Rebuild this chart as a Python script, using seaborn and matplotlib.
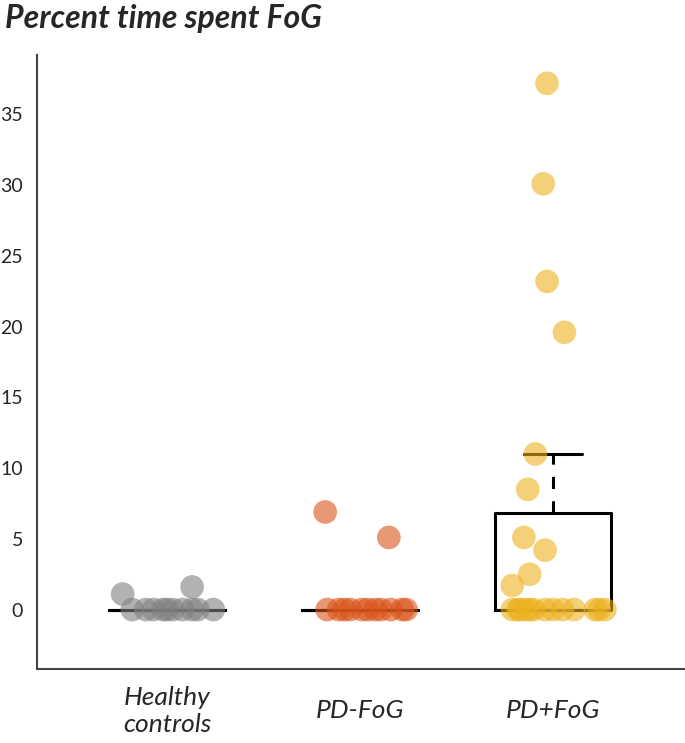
import pandas as pd
import matplotlib
matplotlib.use('Agg')
import matplotlib.pyplot as plt
import seaborn as sns
import numpy as np

# groups and tick labels
groups = ['Healthy controls', 'PD-FoG', 'PD+FoG']
tick_labels = ['Healthy\ncontrols', 'PD-FoG', 'PD+FoG']
colors = ['#808080', '#D95319', '#EDB120']

# percent time spent FoG per subject
healthy_vals = [0, 0, 0, 0, 0, 0, 0, 0, 0, 0, 1.1, 1.6]
pd_nofog_vals = [0, 0, 0, 0, 0, 0, 0, 0, 0, 0, 0, 6.9, 5.1]
pd_fog_vals = [0, 0, 0, 0, 0, 0, 0, 0, 0, 0, 0, 0, 0,
               1.7, 2.5, 4.2, 5.1, 8.5, 11.0, 19.6, 23.2, 30.1, 37.2]

# horizontal jitter of each dot as drawn in the picture
healthy_jit = [-0.18, -0.11, -0.07, -0.02, 0.0, 0.03, 0.08, 0.13, 0.16, 0.24, -0.23, 0.13]
pd_nofog_jit = [-0.17, -0.11, -0.05, 0.01, 0.04, 0.08, 0.16, 0.22, 0.24, -0.08, 0.11, -0.18, 0.15]
pd_fog_jit = [-0.21, -0.18, -0.17, -0.14, -0.12, -0.10, -0.04, 0.0, 0.05, 0.11, 0.22, 0.24, 0.27,
              -0.21, -0.12, -0.04, -0.15, -0.13, -0.09, 0.06, -0.03, -0.05, -0.03]

rows = []
for i, (g, vals, jit) in enumerate(zip(groups, [healthy_vals, pd_nofog_vals, pd_fog_vals],
                                       [healthy_jit, pd_nofog_jit, pd_fog_jit])):
    for v, j in zip(vals, jit):
        rows.append({'group': g, 'gx': i, 'value': v, 'xj': i + j})
df = pd.DataFrame(rows)

sns.set_style('white')
plt.rcParams['font.family'] = ['Lato', 'DejaVu Sans']

fig = plt.figure(figsize=(6.85, 7.43), dpi=100)
ax = fig.add_axes([37 / 685, 74 / 743, 647 / 685, 614 / 743])

sns.boxplot(data=df, x='gx', y='value', native_scale=True, width=0.6, whis=1.5,
            showfliers=False, fill=False, color='black', linewidth=2.2,
            whiskerprops={'linestyle': (0, (4, 4))}, ax=ax, zorder=2)

sns.scatterplot(data=df, x='xj', y='value', hue='group', palette=colors,
                s=290, alpha=0.6, edgecolor='none', legend=False, ax=ax, zorder=3)

ax.set_xlim(-0.674, 2.68)
ax.set_ylim(-4.2, 39.2)
ax.set_xticks([0, 1, 2])
ax.set_xticklabels(tick_labels, fontsize=19, style='italic', va='center')
ax.set_yticks(np.arange(0, 36, 5))
ax.tick_params(axis='y', direction='in', length=7, width=1, color='#777777',
               labelsize=14, pad=10)
ax.tick_params(axis='x', length=0, pad=30)
ax.set_xlabel('')
ax.set_ylabel('')
for s in ['top', 'right']:
    ax.spines[s].set_visible(False)
for s in ['left', 'bottom']:
    ax.spines[s].set_color('#444444')
    ax.spines[s].set_linewidth(1.5)

fig.text(0.007, 0.995, 'Percent time spent FoG', fontsize=23, fontweight='bold',
         style='italic', va='top', ha='left')

fig.savefig('out.png', dpi=100)
